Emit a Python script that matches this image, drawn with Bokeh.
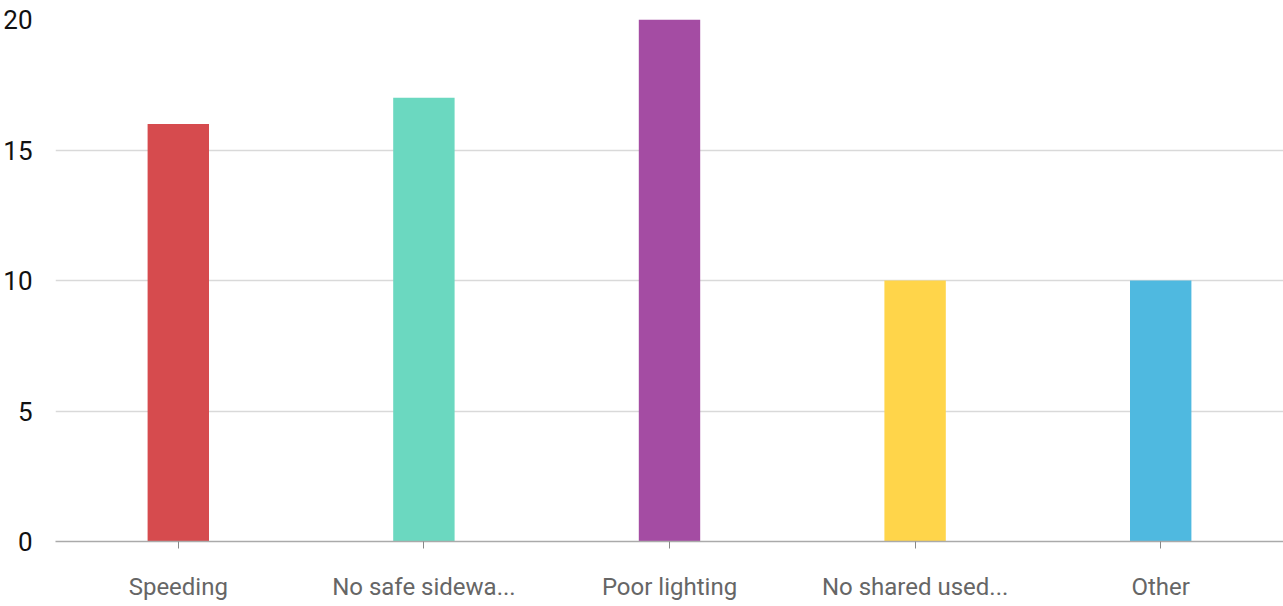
from bokeh.plotting import figure
from bokeh.models import Range1d, ColumnDataSource, SingleIntervalTicker
from bokeh.embed import file_html
from bokeh.resources import INLINE

categories = ["Speeding", "No safe sidewa...", "Poor lighting", "No shared used...", "Other"]
counts = [16, 17, 20, 10, 10]
colors = ["#d64b4e", "#6bd8c0", "#a44ca3", "#ffd54a", "#4fb9e0"]

src = ColumnDataSource(dict(cat=categories, val=counts, col=colors))

p = figure(x_range=categories, y_range=Range1d(0, 20), width=1283, height=604,
           output_backend="svg", toolbar_location=None,
           min_border_left=55, min_border_right=0, min_border_top=19, min_border_bottom=63)
p.outline_line_color = None
p.vbar(x="cat", top="val", width=0.25, color="col", source=src, line_color=None)

p.yaxis.ticker = SingleIntervalTicker(interval=5)
p.yaxis.axis_line_color = None
p.yaxis.major_tick_line_color = None
p.yaxis.minor_tick_line_color = None
p.yaxis.major_label_text_font = "Roboto"
p.yaxis.major_label_text_font_size = "26px"
p.yaxis.major_label_text_color = "#111111"
p.yaxis.major_label_standoff = 17

p.xaxis.axis_line_color = "#aaaaaa"
p.xaxis.axis_line_width = 1.5
p.xaxis.major_tick_line_color = "#888888"
p.xaxis.major_tick_out = 7
p.xaxis.major_tick_in = 0
p.xaxis.major_label_text_font = "Roboto"
p.xaxis.major_label_text_font_size = "24px"
p.xaxis.major_label_text_color = "#666666"
p.xaxis.major_label_standoff = 24

p.xgrid.grid_line_color = None
p.ygrid.grid_line_color = "#d9d9d9"
p.ygrid.grid_line_width = 1.5

open("out.html", "w").write(file_html(p, INLINE))
